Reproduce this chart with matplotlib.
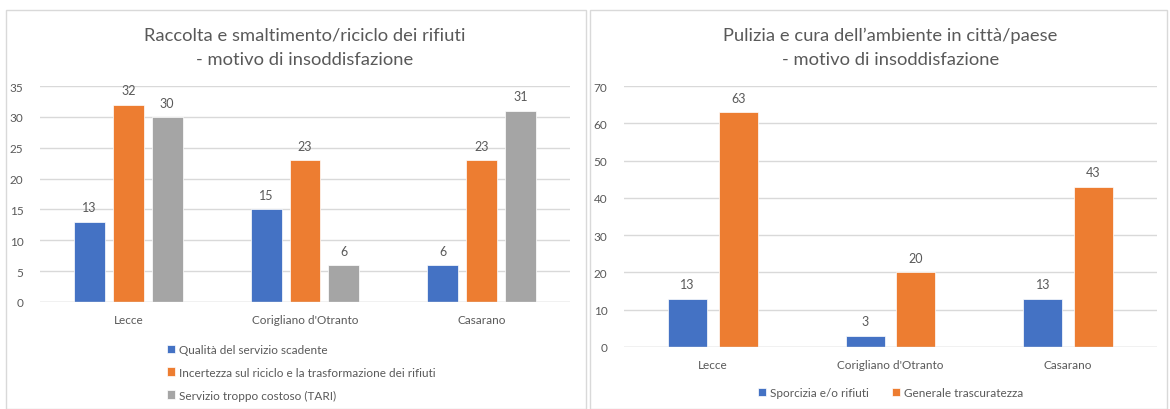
import numpy as np
import matplotlib.pyplot as plt
from matplotlib.patches import Rectangle

plt.rcParams['font.family'] = ['Lato', 'DejaVu Sans']

# left chart
cities = ["Lecce", "Corigliano d'Otranto", "Casarano"]
qualita = [13, 15, 6]
incertezza = [32, 23, 23]
costoso = [30, 6, 31]
left_series = ["Qualità del servizio scadente",
               "Incertezza sul riciclo e la trasformazione dei rifiuti",
               "Servizio troppo costoso (TARI)"]

# right chart
sporcizia = [13, 3, 13]
trascuratezza = [63, 20, 43]
right_series = ["Sporcizia e/o rifiuti", "Generale trascuratezza"]

blue, orange, gray = "#4472C4", "#ED7D31", "#A5A5A5"
txt = "#595959"
grid = "#D9D9D9"

fig = plt.figure(figsize=(11.7, 4.1), dpi=100)

# panel frames
W, H = 1170, 410
for x0, x1 in [(6, 586), (590, 1167)]:
    fig.patches.append(Rectangle((x0 / W, 0), (x1 - x0) / W, (H - 11) / H,
                                 transform=fig.transFigure, fill=False,
                                 edgecolor=grid, lw=1))


def style(ax, ymax, step):
    ax.set_ylim(0, ymax)
    ax.set_yticks(np.arange(0, ymax + 1, step))
    ax.set_xlim(-0.5, 2.5)
    ax.set_xticks(range(3))
    ax.set_xticklabels(cities)
    for s in ax.spines.values():
        s.set_visible(False)
    ax.grid(axis='y', color=grid, lw=1)
    ax.set_axisbelow(True)
    ax.axhline(0, color=grid, lw=1)
    ax.tick_params(length=0, colors=txt, labelsize=8.5)
    ax.tick_params(axis='x', pad=9)
    ax.tick_params(axis='y', pad=12)


def labels(ax, bars):
    for b in bars:
        ax.annotate(str(int(b.get_height())),
                    (b.get_x() + b.get_width() / 2, b.get_height()),
                    xytext=(0, 6), textcoords='offset points',
                    ha='center', va='bottom', fontsize=9, color=txt)


x = np.arange(3)

ax1 = fig.add_axes([40 / W, (H - 303) / H, 530 / W, 216 / H])
w = 0.175
for i, (vals, c) in enumerate(zip([qualita, incertezza, costoso], [blue, orange, gray])):
    b = ax1.bar(x + (i - 1) * 0.22, vals, w, color=c, edgecolor='white', lw=0.5,
                label=left_series[i])
    labels(ax1, b)
style(ax1, 35, 5)
ax1.set_title("Raccolta e smaltimento/riciclo dei rifiuti\n- motivo di insoddisfazione",
              fontsize=13.2, color=txt, pad=16, linespacing=1.6)
ax1.legend(loc='upper left', bbox_to_anchor=(0.22, -0.145), frameon=False,
           fontsize=8.5, labelcolor=txt, handlelength=0.7, handleheight=0.7,
           handletextpad=0.3, labelspacing=1.0)

ax2 = fig.add_axes([624 / W, (H - 348) / H, 533 / W, 261 / H])
w2 = 0.22
for i, (vals, c) in enumerate(zip([sporcizia, trascuratezza], [blue, orange])):
    b = ax2.bar(x + (i - 0.5) * 0.285, vals, w2, color=c, edgecolor='white', lw=0.5,
                label=right_series[i])
    labels(ax2, b)
style(ax2, 70, 10)
ax2.set_title("Pulizia e cura dell’ambiente in città/paese\n- motivo di insoddisfazione",
              fontsize=13.2, color=txt, pad=16, linespacing=1.6)
ax2.legend(loc='center', bbox_to_anchor=(0.5, -0.175), ncol=2, frameon=False,
           fontsize=8.5, labelcolor=txt, handlelength=0.7, handleheight=0.7,
           handletextpad=0.3, columnspacing=2.0)

fig.savefig("out.png", dpi=100, facecolor='white')
